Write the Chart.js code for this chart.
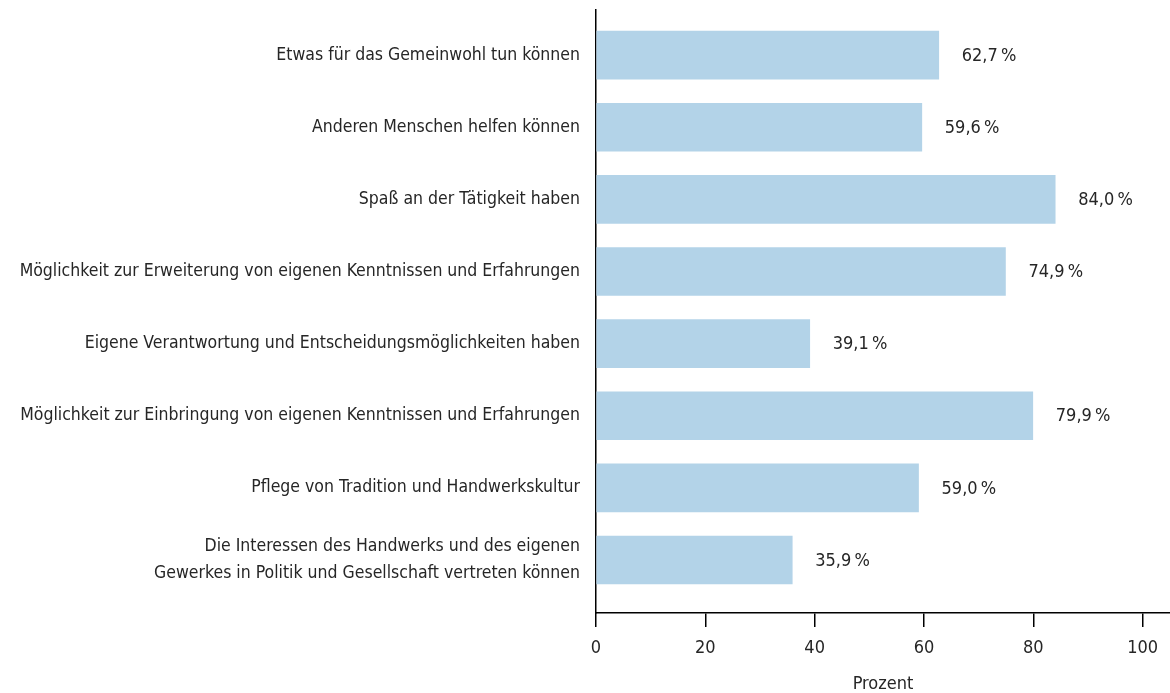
<!DOCTYPE html>
<html>
<head>
<meta charset="utf-8">
<script src="https://cdn.jsdelivr.net/npm/chart.js@4"></script>
<style>
    body { margin: 0; background: #fff; }
    canvas { display: block; }
</style>
</head>
<body>
<canvas id="bar-chart" width="1170" height="693"></canvas>
<script>
/*DATA*/
const categories = [
    "Etwas für das Gemeinwohl tun können",
    "Anderen Menschen helfen können",
    "Spaß an der Tätigkeit haben",
    "Möglichkeit zur Erweiterung von eigenen Kenntnissen und Erfahrungen",
    "Eigene Verantwortung und Entscheidungsmöglichkeiten haben",
    "Möglichkeit zur Einbringung von eigenen Kenntnissen und Erfahrungen",
    "Pflege von Tradition und Handwerkskultur",
    ["Die Interessen des Handwerks und des eigenen", "Gewerkes in Politik und Gesellschaft vertreten können"]
];
const values = [62.7, 59.6, 84.0, 74.9, 39.1, 79.9, 59.0, 35.9];
const xTicks = [0, 20, 40, 60, 80, 100];

const fontFamily = "'DejaVu Sans Condensed', 'DejaVu Sans', sans-serif";
const textColor = "#262626";

function fmt(v) {
    return v.toFixed(1).replace(".", ",") + "\u2009%";
}

// value labels next to the bars
const valueLabels = {
    id: "valueLabels",
    afterDatasetsDraw(chart) {
        const ctx = chart.ctx;
        const meta = chart.getDatasetMeta(0);
        ctx.save();
        ctx.font = "18px " + fontFamily;
        ctx.fillStyle = textColor;
        ctx.textAlign = "left";
        ctx.textBaseline = "middle";
        meta.data.forEach((bar, i) => {
            ctx.fillText(fmt(values[i]), bar.x + 23, bar.y + 1);
        });
        ctx.restore();
    }
};

new Chart(document.getElementById("bar-chart"), {
    type: "bar",
    data: {
        datasets: [{
            data: values.map((v, i) => ({ x: v, y: i })),
            backgroundColor: "rgb(179, 211, 232)",
            borderWidth: 0,
            barThickness: 48
        }]
    },
    options: {
        indexAxis: "y",
        responsive: false,
        animation: false,
        devicePixelRatio: 1,
        layout: { padding: { top: 10, right: 0, left: 0, bottom: 0 } },
        plugins: {
            legend: { display: false },
            tooltip: { enabled: false }
        },
        scales: {
            y: {
                type: "linear",
                reverse: true,
                offset: false,
                min: -0.625,
                max: 7.735,
                afterBuildTicks: (s) => { s.ticks = categories.map((c, i) => ({ value: i })); },
                afterFit: (s) => {
                    s.width = 596;
                    s.paddingTop = 0;
                    s.paddingBottom = 0;
                },
                grid: { display: false, offset: false },
                border: { display: true, color: "#000", width: 1.5 },
                ticks: {
                    padding: 8,
                    color: textColor,
                    font: { family: fontFamily, size: 17.5, lineHeight: 1.5 },
                    callback: (v) => categories[v]
                }
            },
            x: {
                type: "linear",
                min: 0,
                max: 105,
                afterBuildTicks: (s) => { s.ticks = xTicks.map(v => ({ value: v })); },
                afterFit: (s) => {
                    s.height = 80;
                    s.paddingLeft = 0;
                    s.paddingRight = 0;
                },
                grid: {
                    display: true,
                    drawOnChartArea: false,
                    drawTicks: true,
                    tickLength: 14,
                    color: "#000",
                    lineWidth: 1.5
                },
                border: { display: true, color: "#000", width: 1.5 },
                ticks: {
                    padding: 11,
                    color: textColor,
                    maxRotation: 0,
                    font: { family: fontFamily, size: 18 }
                },
                title: {
                    display: true,
                    text: "Prozent",
                    color: textColor,
                    padding: 0,
                    font: { family: fontFamily, size: 18, lineHeight: 1.0 }
                }
            }
        }
    },
    plugins: [valueLabels]
});
</script>
</body>
</html>
